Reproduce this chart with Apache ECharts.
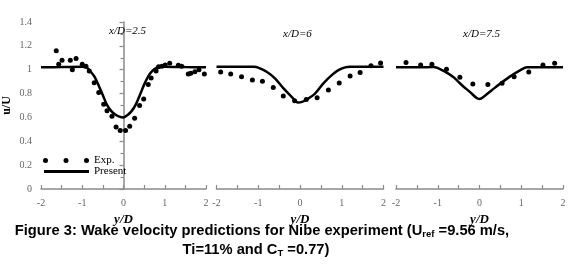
<!DOCTYPE html>
<html>
<head>
<meta charset="utf-8">
<script src="https://cdn.jsdelivr.net/npm/echarts@6/dist/echarts.min.js"></script>
<style>
  html, body { margin: 0; padding: 0; background: #fff; }
  #wake { width: 571px; height: 274px; }
</style>
</head>
<body>
<div id="wake"></div>
<script>
   var wake = echarts.init(document.getElementById('wake'));

   // panel titles
   var panelTitles = ['x/D=2.5', 'x/D=6', 'x/D=7.5'];

   // experimental points [y/D, u/U]
   var exp25 = [
       [-1.63, 1.16], [-1.57, 1.045], [-1.49, 1.08], [-1.29, 1.08], [-1.24, 1.0],
       [-1.15, 1.095], [-1.0, 1.045], [-0.91, 1.03], [-0.83, 0.99], [-0.71, 0.89],
       [-0.60, 0.81], [-0.48, 0.71], [-0.40, 0.655], [-0.28, 0.61], [-0.18, 0.52],
       [-0.08, 0.49], [0.05, 0.49], [0.15, 0.527], [0.27, 0.594], [0.39, 0.70],
       [0.49, 0.754], [0.60, 0.877], [0.67, 0.93], [0.79, 0.99], [0.85, 1.025],
       [0.93, 1.03], [1.01, 1.04], [1.12, 1.054], [1.33, 1.037], [1.41, 1.03],
       [1.57, 0.964], [1.63, 0.97], [1.73, 0.983], [1.83, 1.0], [1.96, 0.964]
   ];
   var exp6 = [
       [-1.90, 0.98], [-1.66, 0.964], [-1.40, 0.941], [-1.14, 0.913], [-0.90, 0.903],
       [-0.64, 0.85], [-0.40, 0.78], [-0.13, 0.74], [0.15, 0.75], [0.41, 0.765],
       [0.68, 0.83], [0.94, 0.888], [1.20, 0.948], [1.44, 0.977], [1.70, 1.034],
       [1.93, 1.057]
   ];
   var exp75 = [
       [-1.76, 1.06], [-1.41, 1.04], [-1.14, 1.045], [-0.79, 1.003], [-0.47, 0.936],
       [-0.16, 0.88], [0.20, 0.877], [0.54, 0.886], [0.83, 0.94], [1.18, 0.98],
       [1.52, 1.04], [1.80, 1.054]
   ];

   // model predictions ("Present")
   var present25 = [
       [-2, 1.02], [-1.5, 1.022], [-1.0, 1.025], [-0.9, 1.02], [-0.8, 0.985],
       [-0.7, 0.94], [-0.6, 0.865], [-0.5, 0.785], [-0.4, 0.705], [-0.3, 0.655],
       [-0.2, 0.625], [-0.1, 0.607], [0, 0.60], [0.1, 0.62], [0.2, 0.655],
       [0.3, 0.71], [0.4, 0.79], [0.5, 0.875], [0.6, 0.945], [0.7, 0.99],
       [0.8, 1.015], [0.9, 1.027], [1.0, 1.025], [1.5, 1.022], [2, 1.02]
   ];
   var present6 = [
       [-2, 1.025], [-1.5, 1.025], [-1.1, 1.025], [-1.0, 1.018], [-0.8, 0.983],
       [-0.6, 0.928], [-0.4, 0.845], [-0.2, 0.773], [-0.05, 0.725], [0.05, 0.73],
       [0.16, 0.75], [0.36, 0.80], [0.56, 0.886], [0.76, 0.955], [0.92, 0.997],
       [1.08, 1.02], [1.2, 1.025], [1.6, 1.025], [2, 1.025]
   ];
   var present75 = [
       [-2, 1.02], [-1.5, 1.02], [-1.1, 1.022], [-0.86, 0.99], [-0.62, 0.936],
       [-0.42, 0.87], [-0.22, 0.81], [-0.06, 0.76], [0, 0.755], [0.10, 0.773],
       [0.38, 0.852], [0.70, 0.936], [0.98, 0.997], [1.14, 1.02], [1.5, 1.02],
       [2, 1.02]
   ];

   var expSets = [exp25, exp6, exp75];
   var presentSets = [present25, present6, present75];
   var gridLefts = [39, 216.5, 396];
   var titlePos = [[109, 26], [283, 29], [463, 29]];

   var serif = '"Liberation Serif", "DejaVu Serif", serif';
   var sans = '"Liberation Sans", Arial, sans-serif';
   var axisGray = '#8a8a8a';
   var dots = 'path://M0,2.5a2.5,2.5 0 1,0 5,0a2.5,2.5 0 1,0 -5,0Z' +
       'M20.5,2.5a2.5,2.5 0 1,0 5,0a2.5,2.5 0 1,0 -5,0Z' +
       'M41,2.5a2.5,2.5 0 1,0 5,0a2.5,2.5 0 1,0 -5,0Z';

   var grids = [], xAxes = [], yAxes = [], series = [], titles = [];
   for (var i = 0; i < 3; i++) {
       grids.push({ left: gridLefts[i], top: 22, width: 167, height: 167 });
       xAxes.push({
           gridIndex: i,
           type: 'value',
           min: -2,
           max: 2,
           interval: 1,
           name: 'y/D',
           nameLocation: 'middle',
           nameGap: 17,
           nameTextStyle: { fontFamily: serif, fontStyle: 'italic', fontWeight: 'bold', fontSize: 13, color: '#000' },
           axisLine: { lineStyle: { color: axisGray, width: 1.5 } },
           axisTick: { inside: true, length: 4, lineStyle: { color: axisGray, width: 1.2 } },
           minorTick: { show: true, splitNumber: 2, length: 4, lineStyle: { color: axisGray, width: 1.2 } },
           axisLabel: { margin: 9, fontFamily: serif, fontSize: 10, color: '#666' },
           splitLine: { show: false }
       });
       yAxes.push({
           gridIndex: i,
           type: 'value',
           min: 0,
           max: 1.4,
           interval: 0.2,
           show: i === 0,
           name: i === 0 ? 'u/U' : '',
           nameLocation: 'middle',
           nameGap: 28,
           nameTextStyle: { fontFamily: serif, fontWeight: 'bold', fontSize: 12, color: '#000' },
           axisLine: { show: true, lineStyle: { color: axisGray, width: 1.5 } },
           axisTick: { length: 4, lineStyle: { color: axisGray, width: 1.2 } },
           minorTick: { show: true, splitNumber: 2, length: 3, lineStyle: { color: axisGray, width: 1.2 } },
           axisLabel: { margin: 9, fontFamily: serif, fontSize: 10, color: '#666' },
           splitLine: { show: false }
       });
       series.push({
           name: 'Exp.',
           type: 'scatter',
           xAxisIndex: i,
           yAxisIndex: i,
           symbolSize: 5,
           itemStyle: { color: '#000', opacity: 1 },
           data: expSets[i]
       });
       series.push({
           name: 'Present',
           type: 'line',
           xAxisIndex: i,
           yAxisIndex: i,
           smooth: 0.3,
           showSymbol: false,
           lineStyle: { color: '#000', width: 2.5 },
           itemStyle: { color: '#000' },
           data: presentSets[i]
       });
       titles.push({
           text: panelTitles[i],
           left: titlePos[i][0],
           top: titlePos[i][1],
           padding: 0,
           textStyle: { fontFamily: serif, fontStyle: 'italic', fontWeight: 'normal', fontSize: 11, color: '#000' }
       });
   }

   option_wake = {
       animation: false,
       title: titles,
       grid: grids,
       xAxis: xAxes,
       yAxis: yAxes,
       legend: [{
           left: 43,
           top: 155,
           padding: 0,
           itemWidth: 46,
           itemHeight: 5,
           itemGap: 5,
           textStyle: { fontFamily: serif, fontSize: 11, color: '#000' },
           data: [{ name: 'Exp.', icon: dots }]
       }, {
           left: 44,
           top: 166,
           padding: 0,
           itemWidth: 45,
           itemHeight: 3,
           textStyle: { fontFamily: serif, fontSize: 11, color: '#000' },
           data: [{ name: 'Present', icon: 'rect' }]
       }],
       graphic: [{
           type: 'text',
           x: 262,
           y: 231,
           style: {
               text: 'Figure 3: Wake velocity predictions for Nibe experiment (U{sub|ref} =9.56 m/s,',
               align: 'center',
               verticalAlign: 'middle',
               fontFamily: sans,
               fontWeight: 'bold',
               fontSize: 14.7,
               lineHeight: 16,
               fill: '#000',
               rich: { sub: { fontSize: 9.5, fontWeight: 'bold', lineHeight: 9, verticalAlign: 'bottom' } }
           }
       }, {
           type: 'text',
           x: 256,
           y: 250,
           style: {
               text: 'Ti=11% and C{sub|T} =0.77)',
               align: 'center',
               verticalAlign: 'middle',
               fontFamily: sans,
               fontWeight: 'bold',
               fontSize: 14.7,
               lineHeight: 16,
               fill: '#000',
               rich: { sub: { fontSize: 9.5, fontWeight: 'bold', lineHeight: 9, verticalAlign: 'bottom' } }
           }
       }],
       series: series
   };
   wake.setOption(option_wake);
   window.onresize = function() {
       wake.resize();
   };
</script>
</body>
</html>
